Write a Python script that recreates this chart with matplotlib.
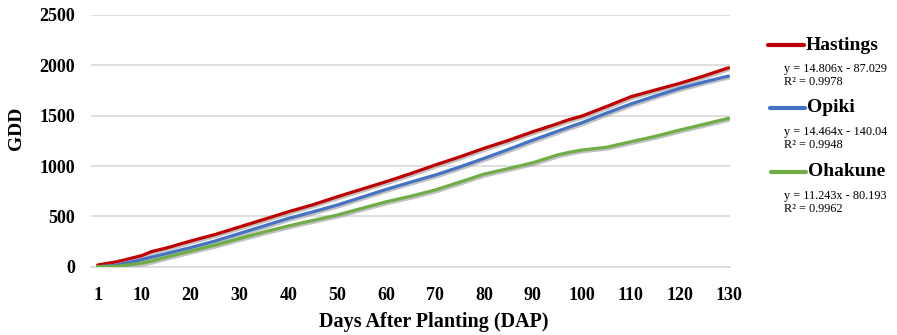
import matplotlib
matplotlib.use("Agg")
import matplotlib.pyplot as plt
import matplotlib.patheffects as pe
from matplotlib.lines import Line2D

# ---- data ----
days = [1, 5, 10, 12, 15, 20, 25, 30, 35, 40, 45, 50, 55, 60, 65, 70, 75, 80,
        85, 90, 95, 97, 100, 105, 110, 115, 120, 125, 130]
hastings = [17, 50, 110, 150, 185, 255, 320, 395, 470, 546, 615, 695, 770, 845,
            925, 1010, 1090, 1176, 1255, 1341, 1420, 1455, 1496, 1590, 1688, 1755,
            1821, 1895, 1976]
opiki = [0, 15, 70, 95, 130, 190, 255, 330, 405, 480, 545, 613, 690, 768, 840,
         910, 990, 1076, 1165, 1258, 1345, 1380, 1430, 1525, 1616, 1695, 1771,
         1835, 1894]
ohakune = [0, 5, 35, 55, 95, 155, 215, 280, 345, 405, 460, 513, 580, 645, 700,
           762, 840, 920, 975, 1033, 1110, 1132, 1159, 1186, 1241, 1295, 1357,
           1415, 1474]
series_names = ["Hastings", "Opiki", "Ohakune"]
equations = ["y = 14.806x - 87.029", "y = 14.464x - 140.04", "y = 11.243x - 80.193"]
r2_texts = ["R\u00b2 = 0.9978", "R\u00b2 = 0.9948", "R\u00b2 = 0.9962"]
xticks = [1, 10, 20, 30, 40, 50, 60, 70, 80, 90, 100, 110, 120, 130]
yticks = [0, 500, 1000, 1500, 2000, 2500]

colors = ["#C00000", "#4472C4", "#70AD47"]

W, H = 897, 335
fig = plt.figure(figsize=(W / 100, H / 100), dpi=100)
ax = fig.add_axes([91 / W, (H - 266.7) / H, (730 - 91) / W, (266.7 - 15) / H])

serif = ["Liberation Serif", "DejaVu Serif"]

shadow = [pe.SimpleLineShadow(offset=(1.2, -1.2), shadow_color="#999999", alpha=0.6),
          pe.Normal()]
for vals, c in zip([hastings, opiki, ohakune], colors):
    ax.plot(days, vals, color=c, lw=2.3, solid_capstyle="round",
            path_effects=shadow, zorder=3)

ax.set_xlim(-0.37, 130.3)
ax.set_ylim(0, 2500)
ax.set_xticks(xticks)
ax.set_yticks(yticks)
ax.grid(axis="y", color="#D9D9D9", lw=1.2)
ax.set_axisbelow(True)
for s in ["top", "right", "left"]:
    ax.spines[s].set_visible(False)
ax.spines["bottom"].set_color("#D9D9D9")
ax.spines["bottom"].set_linewidth(1.2)
ax.tick_params(length=0)
ax.tick_params(axis="x", pad=14.5)
ax.tick_params(axis="y", pad=11.5)
for lab in ax.get_xticklabels() + ax.get_yticklabels():
    lab.set_fontfamily(serif)
    lab.set_fontweight("bold")
    lab.set_fontsize(13)

fig.text(17 / W, 1 - 128 / H, "GDD", rotation=90, ha="center", va="center",
         family=serif, fontweight="bold", fontsize=14)
fig.text(434 / W, 1 - 322 / H, "Days After Planting (DAP)", ha="center",
         va="center", family=serif, fontweight="bold", fontsize=14.5)

# legend-like labels with trendline equations
label_y = [45, 108, 172]
handle_x = [(768, 804), (770, 805), (771, 806)]
eq_x = 784
for name, c, ly, (hx0, hx1), eq, r2 in zip(series_names, colors, label_y,
                                           handle_x, equations, r2_texts):
    fig.add_artist(Line2D([hx0 / W, hx1 / W], [1 - ly / H, 1 - ly / H],
                          transform=fig.transFigure, color=c, lw=3,
                          solid_capstyle="round"))
    fig.text((hx1 + 2) / W, 1 - ly / H, name, ha="left", va="center",
             family=serif, fontweight="bold", fontsize=14)
    fig.text(eq_x / W, 1 - (ly + 24) / H, eq, ha="left", va="center",
             family=serif, fontsize=8.8)
    fig.text(eq_x / W, 1 - (ly + 37) / H, r2, ha="left", va="center",
             family=serif, fontsize=8.8)

fig.savefig("out.png", dpi=100, facecolor="white")
